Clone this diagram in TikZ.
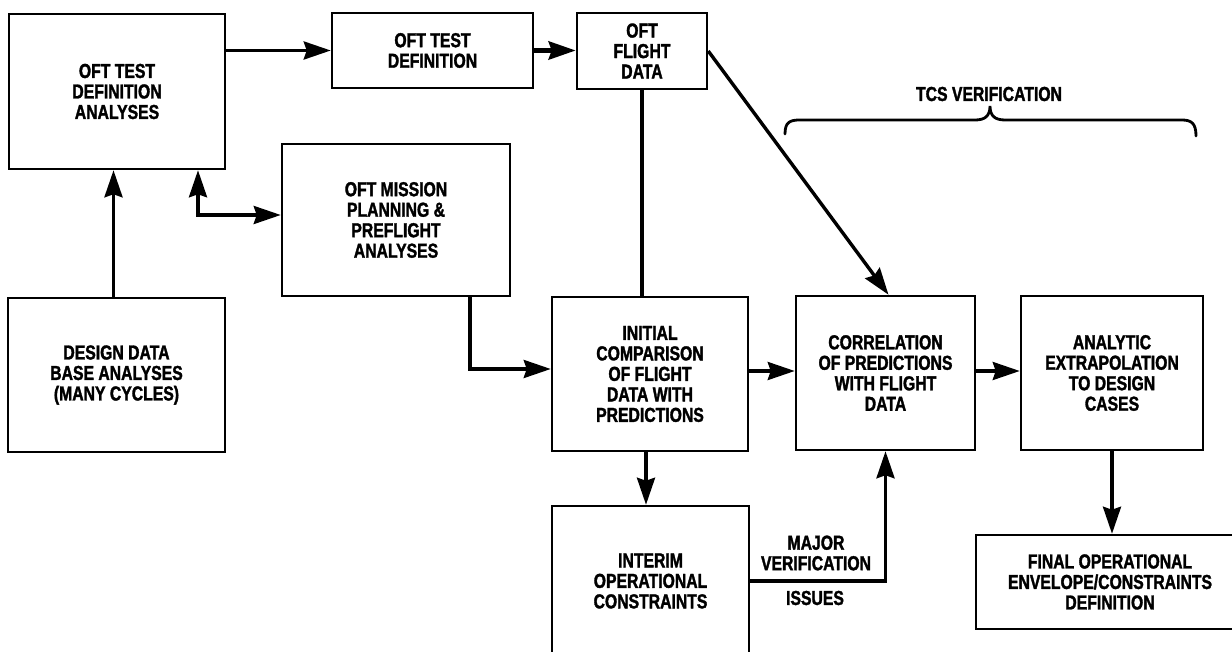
\documentclass[tikz,border=0pt]{standalone}
\usepackage{fontspec}
\setmainfont{Liberation Sans}[FakeStretch=0.78, BoldFeatures={FakeBold=1.6}]
\usetikzlibrary{arrows.meta}
\newcommand\txtfont{\fontsize{20.2}{20.5}\selectfont\bfseries}
\begin{document}
\begin{tikzpicture}[x=1pt,y=-1pt,
  box/.style={draw, line width=2.5pt, align=center, inner sep=0pt, font=\txtfont},
  lbl/.style={align=center, inner sep=0pt, font=\txtfont},
  conn/.style={line width=3.4pt},
  bigtip/.tip={Stealth[length=27pt,width=18pt,inset=3pt]},
  arr/.style={conn,-bigtip},
  dbl/.style={conn,bigtip-bigtip}]
\fill[white] (0,0) rectangle (1232,652);
\useasboundingbox (0,0) rectangle (1232,652);

\node[box, minimum width=216pt, minimum height=155pt] (A) at (117,91.5) {OFT TEST\\DEFINITION\\ANALYSES};
\node[box, minimum width=201pt, minimum height=75pt] (B) at (432.5,50.5) {OFT TEST\\DEFINITION};
\node[box, minimum width=130pt, minimum height=76pt] (C) at (642,51) {OFT\\FLIGHT\\DATA};
\node[box, minimum width=228pt, minimum height=152pt] (D) at (396,220) {OFT MISSION\\PLANNING \&\\PREFLIGHT\\ANALYSES};
\node[box, minimum width=217pt, minimum height=154pt] (E) at (116.5,375) {DESIGN DATA\\BASE ANALYSES\\(MANY CYCLES)};
\node[box, minimum width=196pt, minimum height=154pt] (F) at (650,374) {INITIAL\\COMPARISON\\OF FLIGHT\\DATA WITH\\PREDICTIONS};
\node[box, minimum width=179pt, minimum height=154pt] (G) at (885.5,373) {CORRELATION\\OF PREDICTIONS\\WITH FLIGHT\\DATA};
\node[box, minimum width=182pt, minimum height=154pt] (H) at (1112,373) {ANALYTIC\\EXTRAPOLATION\\TO DESIGN\\CASES};
\node[box, minimum width=197pt, minimum height=150pt] (I) at (650.5,581) {INTERIM\\OPERATIONAL\\CONSTRAINTS};
\node[box, minimum width=268pt, minimum height=94pt] (J) at (1110,582) {FINAL OPERATIONAL\\ENVELOPE/CONSTRAINTS\\DEFINITION};

\node[lbl] (tcs) at (989,94) {TCS VERIFICATION};
\node[lbl] (major) at (816,553) {MAJOR\\VERIFICATION};
\node[lbl] (issues) at (815,598) {ISSUES};

\draw[line width=2.8pt, line cap=round]
  (785,134) .. controls (785,122) and (790,120) .. (800,120) -- (975,120)
  .. controls (985,120) and (990,116) .. (990,106)
  .. controls (990,116) and (995,120) .. (1005,120) -- (1182,120)
  .. controls (1192,120) and (1196,124) .. (1196,136);

\draw[arr] (B.west -| A.east) -- (B.west);
\draw[arr, line width=4.8pt] (B.east) -- (B.east -| C.west);
\draw[arr] ([xshift=-3pt]E.north) -- ([xshift=-3pt]E.north |- A.south);
\draw[dbl] ([xshift=81pt]A.south) |- ([yshift=5pt]D.west);
\draw[conn] (C.south) -- (C.south |- F.north);
\draw[arr] (C.east) -- ([xshift=3pt]G.north);
\draw[arr] ([xshift=74pt]D.south) |- ([yshift=5pt]F.west);
\draw[arr] ([yshift=3pt]F.east) -- ([yshift=3pt]F.east -| G.west);
\draw[arr] ([yshift=2pt]G.east) -- ([yshift=2pt]G.east -| H.west);
\draw[arr] ([xshift=-4pt]F.south) -- ([xshift=-4pt]F.south |- I.north);
\draw[arr] (I.east) -| (G.south);
\draw[arr] (H.south) -- (H.south |- J.north);
\end{tikzpicture}
\end{document}
